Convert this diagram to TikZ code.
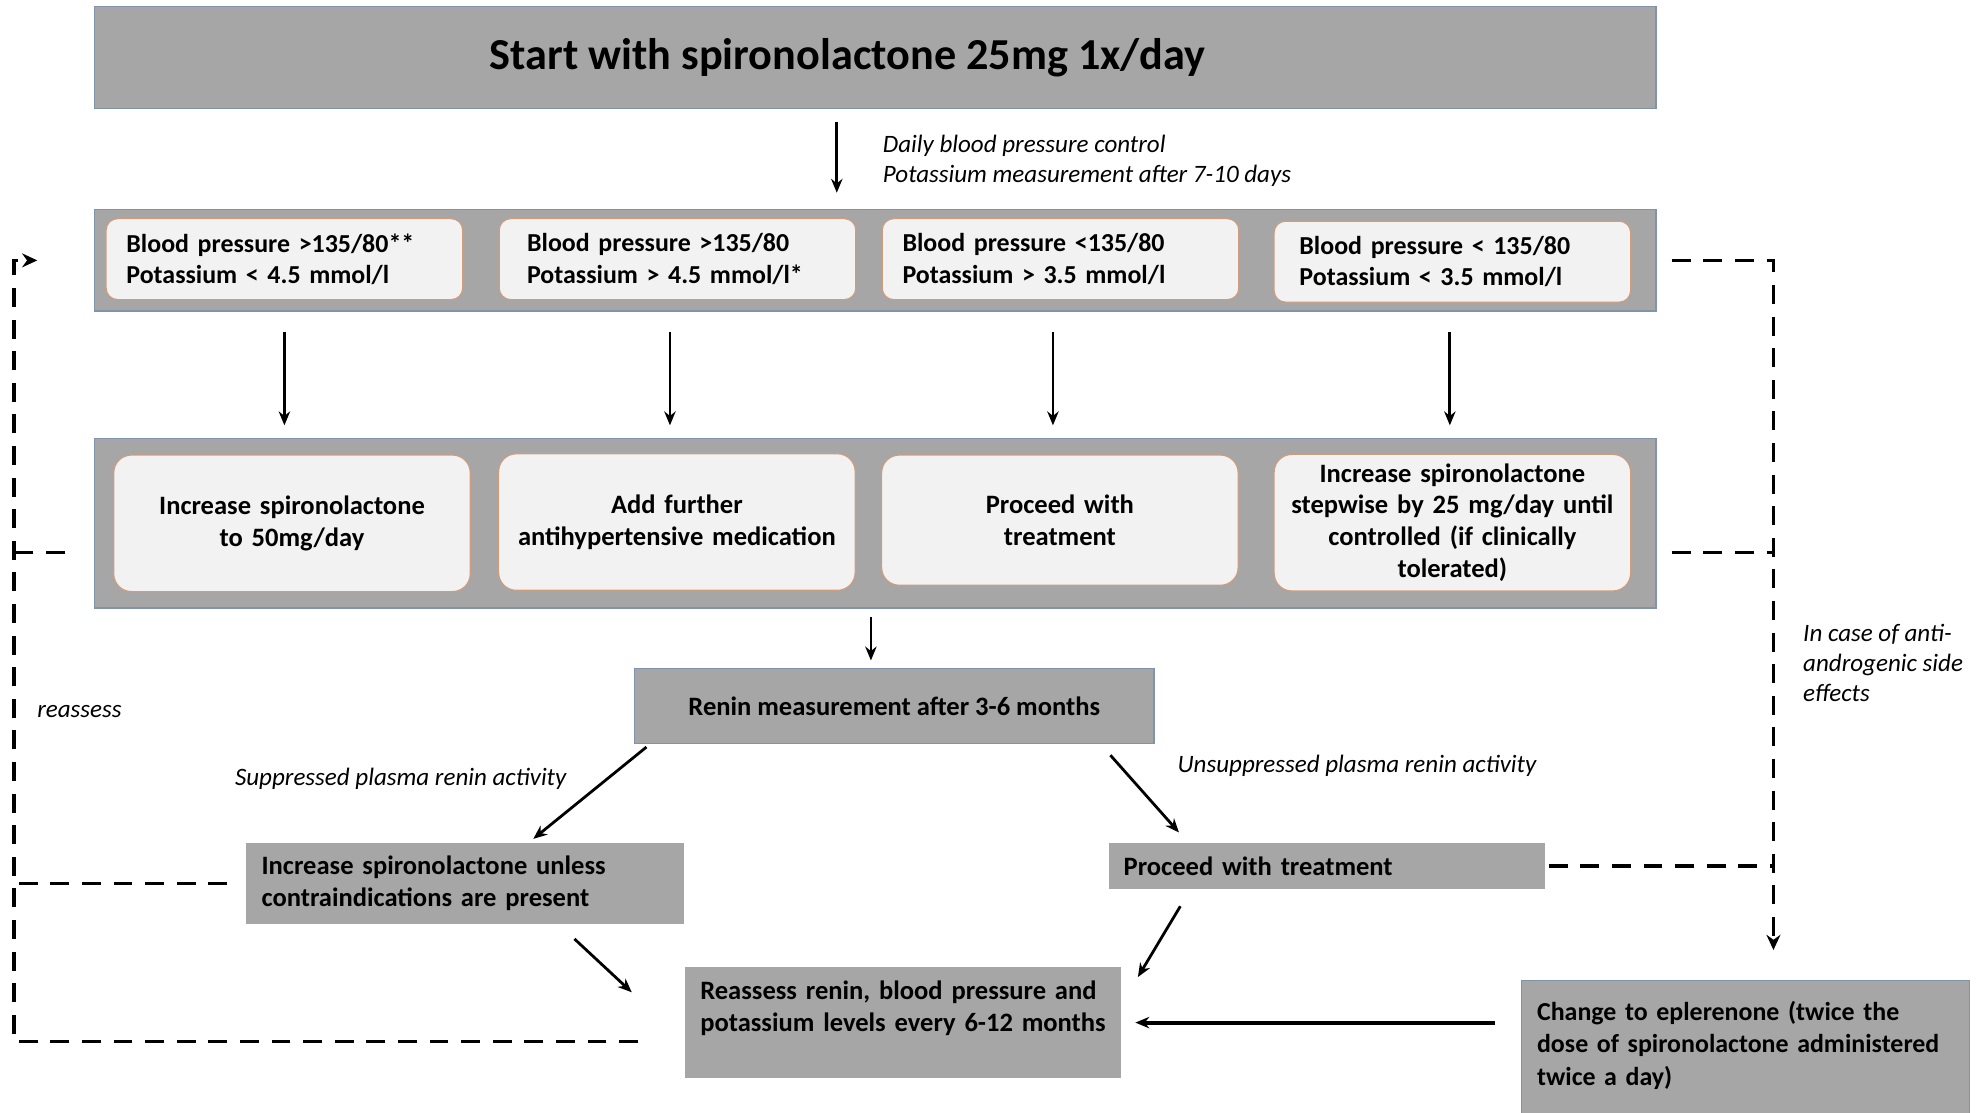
\documentclass[tikz,border=0pt]{standalone}
\usepackage{fontspec}
\setmainfont{Carlito}
\usepackage{xcolor}
\usetikzlibrary{shapes,arrows,positioning,calc,arrows.meta}

\definecolor{panelgray}{HTML}{A6A6A6}
\definecolor{panelline}{HTML}{7F93AA}
\definecolor{condfill}{HTML}{F3F2F2}
\definecolor{condline}{HTML}{CF9C7E}

\hyphenpenalty=10000

\tikzset{
    panel/.style={draw=panelline, fill=panelgray, line width=1pt, minimum width=1235pt},
    cond/.style={draw=condline, fill=condfill, rounded corners=9pt, line width=0.9pt,
        font=\bfseries\fontsize{20.5}{25}\selectfont, align=left, text width=250pt,
        inner xsep=16pt, minimum height=64pt},
    action/.style={draw=condline, fill=condfill, rounded corners=14pt, line width=0.9pt,
        font=\bfseries\fontsize{21}{25.3}\selectfont, align=center, text width=266pt,
        inner xsep=8pt, minimum height=108pt},
    greybox/.style={fill=panelgray, font=\bfseries\fontsize{21}{25.3}\selectfont,
        align=left, inner xsep=12pt},
    note/.style={font=\itshape\fontsize{19.8}{23.8}\selectfont, align=left},
    flow/.style={-{Stealth[length=11pt,width=9pt]}, line width=2.2pt},
    loop/.style={dash pattern=on 15pt off 10pt, line width=2.8pt},
    looparrow/.style={loop, -{Stealth[length=12pt,width=11pt]}}
}

\begin{document}
\begin{tikzpicture}[x=1pt, y=-1pt]
    \path[use as bounding box, fill=white] (0,0) rectangle (1568,880);
    \clip (0,0) rectangle (1568,880);

    % Start
    \node[panel, minimum height=81pt] (start) at (692.5,45.5) {};
    \node[font=\bfseries\fontsize{35}{40}\selectfont] at ([xshift=-22pt]start.center) {Start with spironolactone 25mg 1x/day};

    \node[note, anchor=west] (ctl) at (695,127) {Daily blood pressure control\\Potassium measurement after 7-10 days};

    % First row: conditions
    \node[panel, minimum height=80pt] (row1) at (692.5,206) {};
    \node[cond] (c1) at (225,205) {Blood pressure >135/80**\\Potassium < 4.5 mmol/l};
    \node[cond, inner xsep=22pt, text width=238pt] (c2) at (536,205) {Blood pressure >135/80\\Potassium > 4.5 mmol/l*};
    \node[cond] (c3) at (839,205) {Blood pressure <135/80\\Potassium > 3.5 mmol/l};
    \node[cond, inner xsep=20pt, text width=242pt] (c4) at (1149,207) {Blood pressure < 135/80\\Potassium < 3.5 mmol/l};

    % Second row: actions
    \node[panel, minimum height=134pt] (row2) at (692.5,414) {};
    \node[action] (a1) at (231,414) {Increase spironolactone\\to 50mg/day};
    \node[action] (a2) at (535.5,413) {Add further\\antihypertensive medication};
    \node[action, minimum height=103pt] (a3) at (838.5,411.5) {Proceed with\\treatment};
    \node[action] (a4) at (1149,413.5) {Increase spironolactone\\stepwise by 25 mg/day until\\controlled (if clinically\\tolerated)};

    % Renin
    \node[greybox, draw=panelline, line width=1pt, minimum width=411pt, minimum height=59pt, align=center] (renin) at (707.5,558.5) {Renin measurement after 3-6 months};
    \node[greybox, text width=322pt, minimum height=64pt] (supp) at (368,699) {Increase spironolactone unless\\contraindications are present};
    \node[greybox, text width=321pt, minimum height=36pt] (proc) at (1049.5,685) {Proceed with treatment};
    \node[greybox, text width=321pt, minimum height=88pt] (reas) at (714.5,809) {Reassess renin, blood pressure and\\potassium levels every 6-12 months\\\mbox{}};
    \node[greybox, draw=panelline, line width=0.8pt, font=\bfseries\fontsize{20.5}{25.5}\selectfont, text width=330pt, inner xsep=12pt, minimum height=124pt] (chg) at (1381,838) {Change to eplerenone (twice the\\dose of spironolactone administered\\twice a day)\\\mbox{}};

    % Labels
    \node[note] (lsupp) at (317,616) {Suppressed plasma renin activity};
    \node[note] (lunsupp) at (1073.5,606) {Unsuppressed plasma renin activity};
    \node[note, anchor=west] (lreas) at (26,563) {reassess};
    \node[note, anchor=west] (lside) at (1423,524.5) {In case of anti-\\androgenic side\\effects};

    % Arrows
    \draw[flow, shorten <=10pt, shorten >=13pt] ([xshift=-30.5pt]start.south) -- ([xshift=-30.5pt]row1.north);
    \foreach \c/\dx in {c1/0,c2/-6,c3/-6,c4/-2}
        \draw[flow, shorten <=16pt, shorten >=10pt] ([xshift=\dx pt]\c |- row1.south) -- ([xshift=\dx pt]\c |- row2.north);
    \draw[flow, shorten <=7pt, shorten >=6pt] ([xshift=-3.5pt]row2.south) -- ([xshift=-3.5pt]row2.south |- renin.north);
    \draw[flow, shorten <=4pt, shorten >=5pt] ([xshift=13pt]renin.south west) -- ([xshift=50pt]supp.north);
    \draw[flow, shorten <=12pt, shorten >=11pt] ([xshift=-43pt]renin.south east) -- ([xshift=-109.5pt]proc.north);
    \draw[flow, shorten <=17pt] ([xshift=74pt]supp.south) -- ([xshift=-42pt, yshift=24pt]reas.west);
    \draw[flow, shorten <=16pt] ([xshift=-107.5pt]proc.south) -- ([xshift=13pt, yshift=36pt]reas.east);
    \draw[flow, line width=3pt, shorten <=21pt, shorten >=11pt] (reas.east -| chg.west) -- (reas.east);

    % Feedback loops
    \coordinate (lft) at (11,0);
    \coordinate (rgt) at (1403,0);
    \draw[looparrow] ([xshift=-37pt, yshift=-15pt]reas.west) -| (lft |- row1.west) -- ([xshift=-45pt]row1.west);
    \draw[loop] ([xshift=-23pt, yshift=-23pt]row2.west) -- (lft |- 0,437);
    \draw[loop] ([xshift=-15pt]supp.west) -- (lft |- supp.west);
    \draw[looparrow] ([xshift=12pt]row1.east) -- (rgt |- row1.east) -- ([yshift=24pt]rgt |- chg.north);
    \draw[loop] ([xshift=12pt, yshift=-23pt]row2.east) -- (rgt |- 0,437);
    \draw[loop] ([xshift=3pt]proc.east) -- (rgt |- proc.east);

\end{tikzpicture}
\end{document}
